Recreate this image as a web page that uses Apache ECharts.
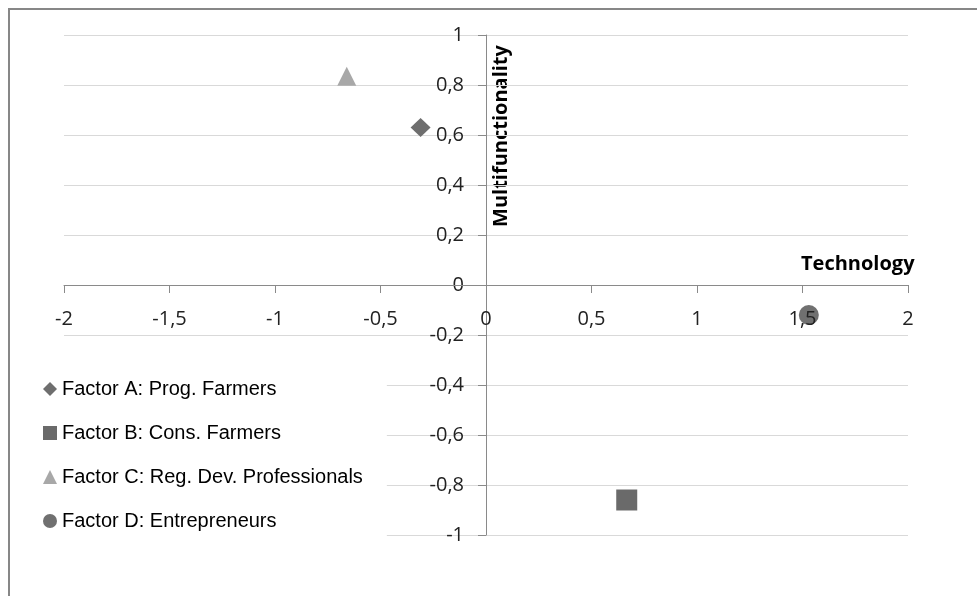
<!DOCTYPE html>
<html>
<head>
<meta charset="utf-8">
<script src="https://cdn.jsdelivr.net/npm/echarts@6/dist/echarts.min.js"></script>
<style>
  html, body { margin: 0; padding: 0; background: #fff; }
  #chart { width: 977px; height: 596px; }
</style>
</head>
<body>
<div id="chart"></div>
<script>
// Factor positions on the Technology (x) / Multifunctionality (y) plane
var factorNames = [
  'Factor A: Prog. Farmers',
  'Factor B: Cons. Farmers',
  'Factor C: Reg. Dev. Professionals',
  'Factor D: Entrepreneurs'
];
var technology = [-0.31, 0.667, -0.66, 1.53];
var multifunctionality = [0.63, -0.86, 0.835, -0.12];
var symbols = ['diamond', 'rect', 'triangle', 'circle'];
var colors = ['#6e6e6e', '#6a6a6a', '#a8a8a8', '#707070'];
var symbolSizes = [[20, 19], 21, [19, 19], 20];

var xTicks = { min: -2, max: 2, interval: 0.5 };
var yTicks = { min: -1, max: 1, interval: 0.2 };

// plot box in pixels; axes cross at the origin
var gridBox = { left: 64, right: 69, top: 35, bottom: 61 };
var plotW = 977 - gridBox.left - gridBox.right;
var plotH = 596 - gridBox.top - gridBox.bottom;
var originX = plotW * (0 - xTicks.min) / (xTicks.max - xTicks.min);
var originY = plotH * (yTicks.max - 0) / (yTicks.max - yTicks.min);

function commaDecimal(v) {
  var s = (Math.round(v * 100) / 100).toString();
  return s.replace('.', ',');
}

var series = factorNames.map(function (name, i) {
  return {
    name: name,
    type: 'scatter',
    symbol: symbols[i],
    symbolSize: symbolSizes[i],
    itemStyle: { color: colors[i], opacity: 1 },
    data: [[technology[i], multifunctionality[i]]],
    emphasis: { disabled: true }
  };
});

var chart = echarts.init(document.getElementById('chart'), null, { renderer: 'canvas' });
chart.setOption({
  animation: false,
  backgroundColor: '#ffffff',
  grid: { left: gridBox.left, right: gridBox.right, top: gridBox.top, bottom: gridBox.bottom, containLabel: false },
  xAxis: {
    type: 'value',
    position: 'bottom',
    offset: -(plotH - originY),
    z: 5,
    min: xTicks.min, max: xTicks.max, interval: xTicks.interval,
    axisLine: { onZero: false, lineStyle: { color: '#8a8a8a', width: 1 } },
    axisTick: { show: true, length: 8, lineStyle: { color: '#8a8a8a' } },
    axisLabel: {
      margin: 24, color: '#222', fontFamily: 'Open Sans', fontSize: 20,
      formatter: commaDecimal, hideOverlap: false
    },
    splitLine: { show: false }
  },
  yAxis: {
    type: 'value',
    position: 'left',
    offset: -originX,
    min: yTicks.min, max: yTicks.max, interval: yTicks.interval,
    axisLine: { onZero: false, lineStyle: { color: '#8a8a8a', width: 1 } },
    axisTick: { show: true, length: 8, lineStyle: { color: '#8a8a8a' } },
    axisLabel: {
      margin: 22, color: '#222', fontFamily: 'Open Sans', fontSize: 20,
      formatter: commaDecimal, hideOverlap: false
    },
    splitLine: { show: true, lineStyle: { color: '#d9d9d9', width: 1 } }
  },
  legend: {
    orient: 'vertical',
    left: 40, top: 371,
    padding: [8, 24, 10, 3],
    backgroundColor: '#ffffff',
    itemWidth: 14, itemHeight: 14, itemGap: 24,
    selectedMode: false,
    textStyle: { fontFamily: 'Liberation Sans', fontSize: 20, color: '#000', lineHeight: 20 },
    data: factorNames
  },
  graphic: [
    {
      type: 'rect', silent: true, z: -1,
      shape: { x: 9, y: 9, width: 1100, height: 1100 },
      style: { fill: 'none', stroke: '#878787', lineWidth: 2 }
    },
    {
      type: 'text', silent: true,
      x: 801, y: 264,
      style: {
        text: 'Technology', fill: '#000',
        font: 'bold 20px "Open Sans"',
        textAlign: 'left', textVerticalAlign: 'middle'
      }
    },
    {
      type: 'text', silent: true,
      x: 501, y: 136, rotation: Math.PI / 2,
      style: {
        text: 'Multifunctionality', fill: '#000',
        font: 'bold 20px "Open Sans"',
        textAlign: 'center', textVerticalAlign: 'middle'
      }
    }
  ],
  series: series
});
</script>
</body>
</html>
